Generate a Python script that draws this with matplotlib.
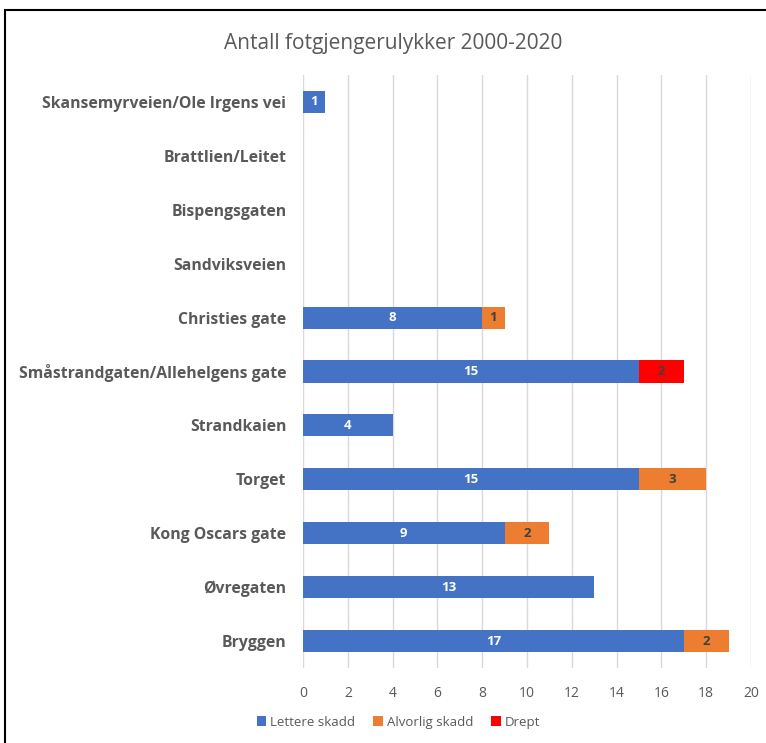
import numpy as np
import matplotlib.pyplot as plt
from matplotlib.patches import Rectangle

plt.rcParams['font.family'] = ['Open Sans', 'DejaVu Sans']

# data, top to bottom as shown in the chart
steder = ["Skansemyrveien/Ole Irgens vei", "Brattlien/Leitet", "Bispengsgaten",
          "Sandviksveien", "Christies gate", "Småstrandgaten/Allehelgens gate",
          "Strandkaien", "Torget", "Kong Oscars gate", "Øvregaten", "Bryggen"]
lettere = [1, 0, 0, 0, 8, 15, 4, 15, 9, 13, 17]
alvorlig = [0, 0, 0, 0, 1, 0, 0, 3, 2, 0, 2]
drept = [0, 0, 0, 0, 0, 2, 0, 0, 0, 0, 0]
x_ticks = list(range(0, 21, 2))

blue = '#4472C4'
orange = '#ED7D31'
red = '#FF0000'
grey = '#595959'

fig = plt.figure(figsize=(7.66, 7.43), dpi=100)
ax = fig.add_axes([0.3956, 0.101, 0.5848, 0.798])

y = np.arange(len(steder))
h = 0.41
lettere = np.array(lettere)
alvorlig = np.array(alvorlig)
drept = np.array(drept)

b1 = ax.barh(y, lettere, height=h, color=blue, label='Lettere skadd', zorder=3)
b2 = ax.barh(y, alvorlig, left=lettere, height=h, color=orange, label='Alvorlig skadd', zorder=3)
b3 = ax.barh(y, drept, left=lettere + alvorlig, height=h, color=red, label='Drept', zorder=3)

# value labels inside bars
for i in range(len(steder)):
    if lettere[i] > 0:
        ax.text(lettere[i] / 2, y[i], str(lettere[i]), ha='center', va='center',
                color='white', fontsize=9.5, fontweight='bold', zorder=4)
    if alvorlig[i] > 0:
        ax.text(lettere[i] + alvorlig[i] / 2, y[i], str(alvorlig[i]), ha='center', va='center',
                color='#404040', fontsize=9.5, fontweight='bold', zorder=4)
    if drept[i] > 0:
        ax.text(lettere[i] + alvorlig[i] + drept[i] / 2, y[i], str(drept[i]), ha='center',
                va='center', color='#404040', fontsize=9.5, fontweight='bold', zorder=4)

ax.set_ylim(len(steder) - 0.5, -0.5)
ax.set_xlim(0, 20)
ax.set_yticks(y)
ax.set_yticklabels(steder, fontsize=11.3, fontweight='bold', color=grey)
ax.set_xticks(x_ticks)
ax.tick_params(axis='x', labelsize=10, labelcolor=grey, length=0, pad=13)
ax.tick_params(axis='y', length=0, pad=12)
ax.grid(axis='x', color='#D9D9D9', linewidth=1, zorder=0)
for s in ax.spines.values():
    s.set_visible(False)

fig.text(0.513, 0.942, 'Antall fotgjengerulykker 2000-2020', ha='center', va='center',
         fontsize=15, color=grey)

fig.legend(handles=[b1, b2, b3], loc='center', bbox_to_anchor=(0.52, 0.028), ncol=3,
           frameon=False, fontsize=9.5, handlelength=0.7, handleheight=0.7,
           handletextpad=0.3, columnspacing=1.4, labelcolor=grey)

# chart border
fig.patches.append(Rectangle((5 / 766, -0.01), 1.0, 1 - 10 / 743 + 0.01,
                             transform=fig.transFigure, fill=False,
                             edgecolor='black', linewidth=1.5))

fig.savefig('out.png', dpi=100, facecolor='white')
